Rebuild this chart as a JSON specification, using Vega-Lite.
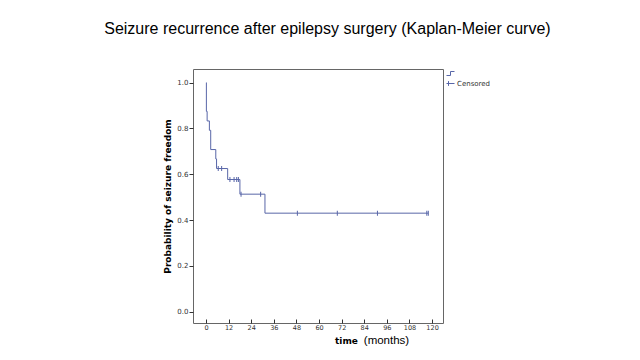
{
  "$schema": "https://vega.github.io/schema/vega-lite/v6.json",
  "width": 250,
  "height": 254,
  "padding": {"left": 104, "top": 21, "right": 5, "bottom": 5},
  "background": "white",
  "title": {
    "text": "Seizure recurrence after epilepsy surgery (Kaplan-Meier curve)",
    "font": "Liberation Sans",
    "fontSize": 16,
    "fontWeight": "normal",
    "color": "black",
    "anchor": "middle",
    "frame": "bounds",
    "offset": 32
  },
  "config": {
    "view": {"stroke": "#666666", "strokeWidth": 1},
    "axis": {
      "grid": false,
      "domain": false,
      "labelFont": "DejaVu Sans",
      "labelFontSize": 7,
      "labelColor": "#333333",
      "labelOverlap": false,
      "tickColor": "#333333",
      "titleFont": "DejaVu Sans",
      "titleFontWeight": "bold",
      "titleColor": "black"
    }
  },
  "resolve": {"scale": {"x": "independent"}},
  "datasets": {
    "km": [
      {"time": 0, "surv": 1.0},
      {"time": 0.2, "surv": 0.875},
      {"time": 0.6, "surv": 0.833},
      {"time": 1.8, "surv": 0.792},
      {"time": 2.5, "surv": 0.708},
      {"time": 5.2, "surv": 0.667},
      {"time": 5.6, "surv": 0.625},
      {"time": 11.5, "surv": 0.577},
      {"time": 18.0, "surv": 0.513},
      {"time": 31.3, "surv": 0.43},
      {"time": 118, "surv": 0.43}
    ],
    "censored": [
      {"time": 6.5, "surv": 0.625, "series": "Censored"},
      {"time": 8.3, "surv": 0.625, "series": "Censored"},
      {"time": 12.7, "surv": 0.577, "series": "Censored"},
      {"time": 14.9, "surv": 0.577, "series": "Censored"},
      {"time": 16.3, "surv": 0.577, "series": "Censored"},
      {"time": 17.2, "surv": 0.577, "series": "Censored"},
      {"time": 18.6, "surv": 0.513, "series": "Censored"},
      {"time": 29.0, "surv": 0.513, "series": "Censored"},
      {"time": 48.5, "surv": 0.43, "series": "Censored"},
      {"time": 69.7, "surv": 0.43, "series": "Censored"},
      {"time": 91.0, "surv": 0.43, "series": "Censored"},
      {"time": 117.2, "surv": 0.43, "series": "Censored"},
      {"time": 118.0, "surv": 0.43, "series": "Censored"}
    ]
  },
  "layer": [
    {
      "data": {"name": "km"},
      "mark": {"type": "line", "interpolate": "step-after", "color": "#5866a8", "strokeWidth": 1},
      "encoding": {
        "x": {
          "field": "time", "type": "quantitative",
          "scale": {"domain": [-6.9, 125.8], "nice": false, "zero": false},
          "axis": {"values": [0, 12, 24, 36, 48, 60, 72, 84, 96, 108, 120], "labelOverlap": false, "labelFontSize": 6.5, "tickSize": -4, "labelPadding": 5, "title": "time", "titleFontSize": 9, "titleAnchor": "start", "titleAlign": "center", "titleX": 153, "titlePadding": 6}
        },
        "y": {
          "field": "surv", "type": "quantitative",
          "scale": {"domain": [-0.05, 1.06], "nice": false, "zero": false},
          "axis": {"values": [0, 0.2, 0.4, 0.6, 0.8, 1.0], "format": ".1f", "tickSize": 4, "labelPadding": 1, "title": "Probability of seizure freedom", "titleFontSize": 9, "titlePadding": 4}
        }
      }
    },
    {
      "data": {"name": "censored"},
      "mark": {"type": "tick", "orient": "vertical", "color": "#5866a8", "thickness": 1, "size": 5, "opacity": 1},
      "encoding": {
        "x": {
          "field": "time", "type": "quantitative",
          "scale": {"domain": [-6.9, 125.8], "nice": false, "zero": false},
          "axis": {"orient": "bottom", "labels": false, "ticks": false, "domain": false, "title": "(months)", "titleFont": "Liberation Sans", "titleFontWeight": "normal", "titleFontSize": 11.5, "titleAlign": "center", "titleBaseline": "alphabetic", "titleX": 193, "titleY": 20}
        },
        "y": {"field": "surv", "type": "quantitative"}
      }
    },
    {
      "data": {"name": "censored"},
      "mark": {"type": "point", "filled": false, "color": "#5866a8", "strokeWidth": 1, "size": 25, "opacity": 0},
      "encoding": {
        "x": {"field": "time", "type": "quantitative", "axis": null, "scale": {"domain": [-6.9, 125.8], "nice": false, "zero": false}},
        "y": {"field": "surv", "type": "quantitative"},
        "shape": {
          "field": "series", "type": "nominal",
          "scale": {"domain": ["Survival Function", "Censored"], "range": ["M-1,0.5H0V-0.5H1", "M-1,0H1M-0.5,-0.6V0.6"]},
          "legend": {
            "title": null,
            "orient": "right",
            "offset": 3,
            "padding": 0,
            "rowPadding": 1,
            "symbolSize": 64,
            "symbolStrokeWidth": 1,
            "symbolOpacity": 1,
            "symbolStrokeColor": "#5866a8",
            "symbolFillColor": "transparent",
            "labelFont": "DejaVu Sans",
            "labelFontSize": 7,
            "labelColor": "#333333",
            "labelOffset": 2,
            "labelExpr": "datum.label == 'Censored' ? 'Censored' : ''"
          }
        }
      }
    }
  ]
}
